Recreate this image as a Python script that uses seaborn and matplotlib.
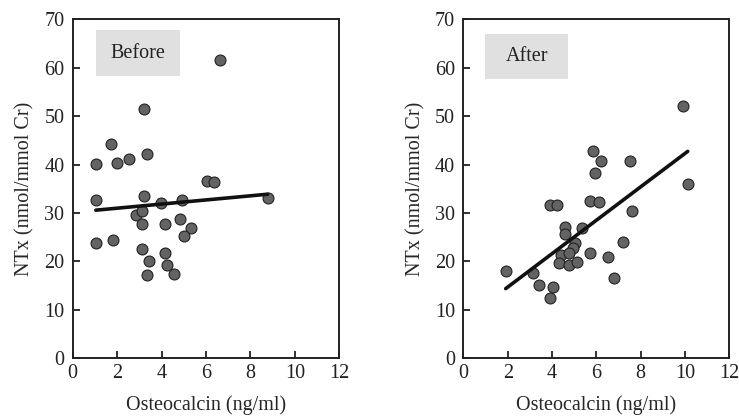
import numpy as np
import pandas as pd
import seaborn as sns
import matplotlib
matplotlib.use("Agg")
import matplotlib.pyplot as plt
from matplotlib.patches import Rectangle

before_x = [6.63, 3.23, 1.73, 1.05, 2.01, 2.52, 3.35, 6.04, 6.36,
            1.05, 3.23, 3.96, 4.92, 8.77, 2.85, 3.14, 3.12, 4.14, 4.83,
            5.34, 5.01, 1.04, 1.83, 3.12, 4.14, 3.44, 4.23, 3.36, 4.56]
before_y = [61.5, 51.5, 44.3, 40.1, 40.3, 41.1, 42.2, 36.6, 36.4,
            32.6, 33.5, 32.1, 32.6, 33.0, 29.5, 30.4, 27.7, 27.8, 28.8,
            27.0, 25.3, 23.8, 24.4, 22.5, 21.7, 20.0, 19.3, 17.2, 17.4]

after_x = [9.91, 5.84, 6.21, 7.53, 5.93, 10.12, 3.91, 4.24, 5.71, 6.12,
           7.61, 4.60, 5.35, 4.60, 5.02, 4.93, 7.20, 4.42, 4.75, 5.71,
           6.54, 4.33, 4.75, 5.12, 1.91, 3.16, 6.80, 3.41, 4.03, 3.91]
after_y = [52.2, 42.8, 40.8, 40.7, 38.2, 35.9, 31.7, 31.7, 32.4, 32.2,
           30.4, 27.2, 26.9, 25.7, 23.9, 22.8, 24.1, 21.3, 21.8, 21.7,
           21.0, 19.6, 19.3, 19.8, 18.1, 17.7, 16.6, 15.1, 14.8, 12.4]

panel_labels = ["Before", "After"]
x_label = "Osteocalcin (ng/ml)"
y_label = "NTx (nmol/mmol Cr)"
x_ticks = [0, 2, 4, 6, 8, 10, 12]
y_ticks = [0, 10, 20, 30, 40, 50, 60, 70]

sns.set_style("white")
plt.rcParams['font.family'] = ['Liberation Serif', 'DejaVu Serif']

fig = plt.figure(figsize=(7.39, 4.19), dpi=100)
ax1 = fig.add_axes([0.0984, 0.1449, 0.3608, 0.809])
ax2 = fig.add_axes([0.627, 0.1449, 0.360, 0.809])

data = [(before_x, before_y), (after_x, after_y)]
boxes = [(0.087, 0.833, 0.315, 0.135), (0.082, 0.823, 0.312, 0.133)]
fs = 14.5

for ax, (xs, ys), lab, bx in zip([ax1, ax2], data, panel_labels, boxes):
    df = pd.DataFrame({"x": xs, "y": ys})
    sns.regplot(data=df, x="x", y="y", ax=ax, ci=None, truncate=True,
                scatter_kws=dict(s=62, color="#636363", edgecolor="#222222",
                                 linewidths=0.8, alpha=1),
                line_kws=dict(color="#111111", lw=2.6))
    ax.set_xlim(0, 12)
    ax.set_ylim(0, 70)
    ax.set_xticks(x_ticks)
    ax.set_yticks(y_ticks)
    ax.set_xlabel(x_label, fontsize=fs, labelpad=9)
    ax.set_ylabel(y_label, fontsize=fs, labelpad=7)
    ax.tick_params(direction="in", length=5, width=1.3, labelsize=fs,
                   colors="#222222", top=False, right=False,
                   left=True, bottom=True)
    ax.tick_params(axis="x", pad=4)
    ax.tick_params(axis="y", pad=6)
    for sp in ax.spines.values():
        sp.set_color("#222222")
        sp.set_linewidth(1.4)
    ax.add_patch(Rectangle((bx[0], bx[1]), bx[2], bx[3], transform=ax.transAxes,
                           facecolor="#e0e0e0", edgecolor="none", zorder=1))
    ax.text(bx[0] + bx[2] / 2, bx[1] + bx[3] / 2, lab, transform=ax.transAxes,
            ha="center", va="center", fontsize=fs, color="#222222", zorder=2)

fig.savefig("out.png", dpi=100)
